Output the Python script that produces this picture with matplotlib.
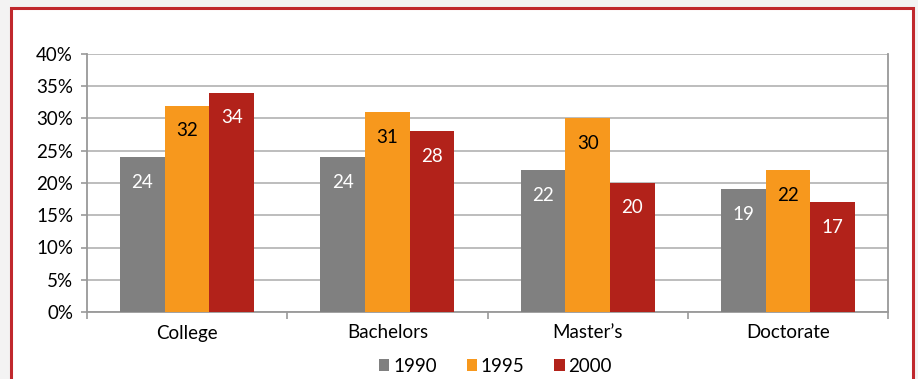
import numpy as np
import matplotlib
matplotlib.use('Agg')
import matplotlib.pyplot as plt
from matplotlib.patches import Rectangle
from matplotlib.ticker import FuncFormatter

categories = ['College', 'Bachelors', 'Master\u2019s', 'Doctorate']
years = ['1990', '1995', '2000']
v1990 = [24, 24, 22, 19]
v1995 = [32, 31, 30, 22]
v2000 = [34, 28, 20, 17]

colors = ['#808080', '#F7981D', '#B2221A']
label_colors = ['white', 'black', 'white']

plt.rcParams['font.family'] = ['Lato', 'DejaVu Sans']
fs = 13.5

fig = plt.figure(figsize=(9.18, 3.79), dpi=100)
fig.patch.set_facecolor('#f3f3f3')
# white panel with red frame (runs off the bottom edge)
fig.patches.append(Rectangle((11 / 918, -0.05), 902 / 918, 1.05 - 8 / 379,
                             transform=fig.transFigure, facecolor='white',
                             edgecolor='#C0282D', linewidth=2.2, zorder=-5))

ax = fig.add_axes([87 / 918, 1 - 312 / 379, 801 / 918, 258 / 379])
ax.set_facecolor('white')

x = np.arange(len(categories))
w = 0.223
series = [v1990, v1995, v2000]
for i, vals in enumerate(series):
    pos = x + (i - 1) * w
    ax.bar(pos, vals, width=w, color=colors[i], label=years[i], zorder=3)
    for p, v in zip(pos, vals):
        ax.annotate(str(v), (p, v), xytext=(0, -18), textcoords='offset points',
                    ha='center', va='center', fontsize=fs,
                    color=label_colors[i], zorder=4)

ax.set_xlim(-0.5, 3.5)
ax.set_ylim(0, 40)
ax.set_yticks(range(0, 41, 5))
ax.yaxis.set_major_formatter(FuncFormatter(lambda v, _: '%d%%' % v))
ax.yaxis.grid(True, color='#b8b8b8', linewidth=1.3, zorder=0)

# category ticks sit on the group boundaries
ax.set_xticks(x)
ax.set_xticklabels(categories)
ax.set_xticks(np.arange(-0.5, 4, 1), minor=True)
ax.tick_params(axis='x', which='major', length=0, pad=9, labelsize=fs)
ax.tick_params(axis='x', which='minor', length=5, color='#999999', width=1.2)
ax.tick_params(axis='y', length=4, color='#999999', width=1.2, labelsize=fs, pad=6)

for s in ['left', 'right', 'bottom']:
    ax.spines[s].set_color('#999999')
    ax.spines[s].set_linewidth(1.3)
ax.spines['top'].set_visible(False)

ax.legend(loc='center', bbox_to_anchor=(0.51, -0.21), ncol=3, frameon=False,
          fontsize=fs, handlelength=0.55, handleheight=0.55, handletextpad=0.2,
          columnspacing=1.6, borderpad=0)

fig.savefig('out.png', dpi=100, facecolor=fig.get_facecolor())
